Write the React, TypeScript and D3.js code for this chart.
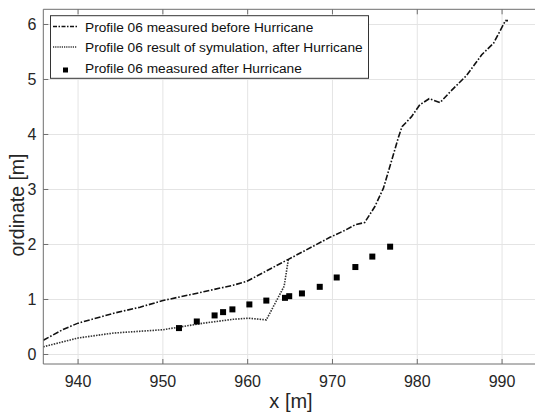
import React, { useEffect, useRef } from "react";
import * as d3 from "d3";

// profile 06 measured before hurricane (x, ordinate)
const beforeX = [935.9, 938.3, 940.0, 944.2, 947.3, 950.0, 954.8, 958.3, 959.9, 964.8, 969.7, 971.5, 972.7, 973.8, 975.0, 976.0, 977.0, 977.8, 978.2, 979.3, 980.3, 981.4, 982.7, 983.9, 985.8, 987.6, 989.0, 990.4, 990.7];
const beforeY = [0.26, 0.46, 0.57, 0.75, 0.86, 0.98, 1.14, 1.26, 1.33, 1.73, 2.13, 2.26, 2.36, 2.40, 2.69, 3.02, 3.54, 3.96, 4.14, 4.32, 4.54, 4.65, 4.58, 4.78, 5.07, 5.45, 5.66, 6.07, 6.07];

// simulation result after hurricane
const simX = [935.9, 940.0, 944.2, 950.0, 954.8, 958.3, 960.1, 962.2, 964.3, 964.8];
const simY = [0.14, 0.30, 0.39, 0.45, 0.57, 0.64, 0.66, 0.63, 1.24, 1.73];

// measured after hurricane
const afterX = [951.9, 954.0, 956.1, 957.1, 958.2, 960.2, 962.2, 964.4, 964.9, 966.4, 968.5, 970.5, 972.7, 974.7, 976.8];
const afterY = [0.48, 0.60, 0.71, 0.77, 0.82, 0.91, 0.98, 1.03, 1.06, 1.11, 1.23, 1.40, 1.59, 1.78, 1.96];

const xTicks = [940, 950, 960, 970, 980, 990];
const yTicks = [0, 1, 2, 3, 4, 5, 6];
const legendLabels = [
  "Profile 06 measured before Hurricane",
  "Profile 06 result of symulation, after Hurricane",
  "Profile 06 measured after Hurricane",
];

const W = 535;
const H = 413;
const font = "'Liberation Sans', Arial, sans-serif";

export default function App() {
  const ref = useRef<SVGSVGElement>(null);

  useEffect(() => {
    const svg = d3.select(ref.current);
    svg.selectAll("*").remove();

    const left = 43.3, right = 545, top = 9.3, bottom = 364;
    const x = d3.scaleLinear().domain([935.9, 935.9 + (right - left) / 8.48]).range([left, right]);
    const y = d3.scaleLinear().domain([-0.173, 6.276]).range([bottom, top]);

    const g = svg.append("g");

    // grid
    g.selectAll(".gx").data(xTicks).enter().append("line")
      .attr("x1", (d) => x(d)).attr("x2", (d) => x(d))
      .attr("y1", top).attr("y2", bottom)
      .attr("stroke", "#e4e4e4").attr("stroke-width", 1);
    g.selectAll(".gy").data(yTicks).enter().append("line")
      .attr("x1", left).attr("x2", right)
      .attr("y1", (d) => y(d)).attr("y2", (d) => y(d))
      .attr("stroke", "#e4e4e4").attr("stroke-width", 1);

    // lines
    const line = d3.line<[number, number]>().x((d) => x(d[0])).y((d) => y(d[1]));
    const before = beforeX.map((v, i) => [v, beforeY[i]] as [number, number]);
    const sim = simX.map((v, i) => [v, simY[i]] as [number, number]);

    g.append("path").attr("d", line(sim)!)
      .attr("fill", "none").attr("stroke", "#333").attr("stroke-width", 1.6)
      .attr("stroke-dasharray", "1.5,1.2");
    g.append("path").attr("d", line(before)!)
      .attr("fill", "none").attr("stroke", "#111").attr("stroke-width", 1.6)
      .attr("stroke-dasharray", "6,1.8,1.6,1.8");

    const sq = 6;
    g.selectAll(".sq").data(afterX).enter().append("rect")
      .attr("x", (d) => x(d) - sq / 2)
      .attr("y", (d, i) => y(afterY[i]) - sq / 2)
      .attr("width", sq).attr("height", sq)
      .attr("fill", "#000");

    // axes frame
    const axisColor = "#6e6e6e";
    g.append("line").attr("x1", left).attr("x2", right).attr("y1", bottom).attr("y2", bottom)
      .attr("stroke", axisColor);
    g.append("line").attr("x1", left).attr("x2", right).attr("y1", top).attr("y2", top)
      .attr("stroke", axisColor);
    g.append("line").attr("x1", left).attr("x2", left).attr("y1", top).attr("y2", bottom)
      .attr("stroke", axisColor);

    // ticks
    xTicks.forEach((t) => {
      g.append("line").attr("x1", x(t)).attr("x2", x(t)).attr("y1", bottom).attr("y2", bottom - 5)
        .attr("stroke", axisColor);
      g.append("line").attr("x1", x(t)).attr("x2", x(t)).attr("y1", top).attr("y2", top + 5)
        .attr("stroke", axisColor);
      g.append("text").attr("x", x(t)).attr("y", 386.5)
        .attr("text-anchor", "middle").attr("font-family", font).attr("font-size", 16)
        .attr("fill", "#262626").text(t);
    });
    yTicks.forEach((t) => {
      g.append("line").attr("x1", left).attr("x2", left + 5).attr("y1", y(t)).attr("y2", y(t))
        .attr("stroke", axisColor);
      g.append("text").attr("x", 36.5).attr("y", y(t) + 5.8)
        .attr("text-anchor", "end").attr("font-family", font).attr("font-size", 16)
        .attr("fill", "#262626").text(t);
    });

    // axis labels
    g.append("text").attr("x", 291).attr("y", 408)
      .attr("text-anchor", "middle").attr("font-family", font).attr("font-size", 20)
      .attr("fill", "#262626").text("x [m]");
    g.append("text").attr("transform", "translate(24,205) rotate(-90)")
      .attr("text-anchor", "middle").attr("font-family", font).attr("font-size", 19.5)
      .attr("fill", "#262626").text("ordinate [m]");

    // legend
    const lg = g.append("g");
    lg.append("rect").attr("x", 50.5).attr("y", 15.7).attr("width", 318).attr("height", 62.6)
      .attr("fill", "#fff").attr("stroke", "#333").attr("stroke-width", 1);
    const rowsY = [26.5, 47, 67.5];
    lg.append("line").attr("x1", 53).attr("x2", 77).attr("y1", rowsY[0]).attr("y2", rowsY[0])
      .attr("stroke", "#111").attr("stroke-width", 1.4).attr("stroke-dasharray", "4,1.5,1.5,1.5");
    lg.append("line").attr("x1", 53).attr("x2", 77).attr("y1", rowsY[1]).attr("y2", rowsY[1])
      .attr("stroke", "#333").attr("stroke-width", 1.4).attr("stroke-dasharray", "1.2,1");
    lg.append("rect").attr("x", 65.5 - 2.5).attr("y", rowsY[2] + 2.5 - 2.5).attr("width", 5).attr("height", 5)
      .attr("fill", "#000");
    legendLabels.forEach((l, i) => {
      lg.append("text").attr("x", 85).attr("y", rowsY[i] + 5)
        .attr("font-family", font).attr("font-size", 13.7).attr("fill", "#111").text(l);
    });
  }, []);

  return (
    <svg
      ref={ref}
      width={W}
      height={H}
      style={{ position: "absolute", left: 0, top: 0, background: "#fff" }}
    />
  );
}
